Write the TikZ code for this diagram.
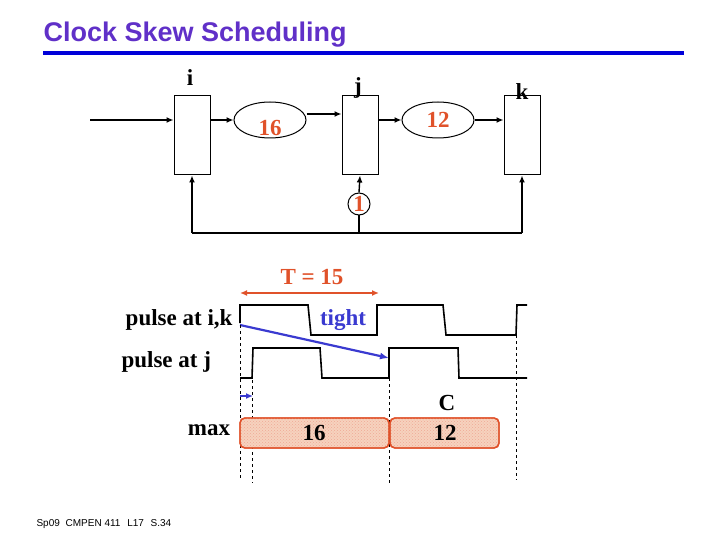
\documentclass[tikz,border=0pt]{standalone}
\usepackage{fontspec}
\setmainfont{Liberation Serif}
\newfontfamily\sansf{Liberation Sans}
\usetikzlibrary{shapes.geometric,arrows.meta,patterns}
\definecolor{ttl}{HTML}{6030C8}
\definecolor{orn}{HTML}{E0522A}
\definecolor{blu}{HTML}{3A3AD0}
\definecolor{fillc}{HTML}{F6D2BE}
\begin{document}
\begin{tikzpicture}[x=1pt,y=-1pt,
  lbl/.style={font=\fontsize{23}{23}\selectfont\bfseries},
  lblo/.style={font=\fontsize{23}{23}\selectfont\bfseries,text=orn},
  reg/.style={draw,line width=1pt,minimum width=36pt,minimum height=79pt,inner sep=0},
  ell/.style={draw,line width=1pt,ellipse,minimum width=72pt,minimum height=36pt,inner sep=0},
  arr/.style={line width=1.4pt,-{Latex[length=7pt,width=6pt]}},
  sig/.style={line width=1.6pt},
  dsh/.style={dashed,thin},
  mx/.style={draw=orn,line width=1.4pt,rounded corners=5pt,fill=fillc,pattern color=orn!50},
]
\useasboundingbox (0,0) rectangle (720,540);
\node[anchor=west,font=\sansf\fontsize{27}{27}\selectfont\bfseries,text=ttl] (title) at (40,35) {Clock Skew Scheduling};
\draw[line width=4.5pt,blue!85!black] (43,53) -- (684,53);
\node[anchor=west,font=\sansf\fontsize{10}{10}\selectfont] (foot) at (33,524) {Sp09\hspace{3pt} CMPEN 411\hspace{4pt} L17\hspace{4pt} S.34};
% registers
\node[reg] (ri) at (192,135.5) {};
\node[reg] (rj) at (360,135.5) {};
\node[reg] (rk) at (522,135.5) {};
\node[lbl] (li) at (190,78) {i};
\node[lbl] (lj) at (358,88) {j};
\node[lbl] (lk) at (522,92) {k};
\node[ell] (e1) at (270,120) {};
\node[lblo] at (270,128) {16};
\node[ell] (e2) at (438,120) {};
\node[lblo] at (438,120) {12};
\node[draw,line width=1pt,circle,minimum size=22pt,inner sep=0] (c1) at (359,204) {};
\node[lblo] at (359,204) {1};
\coordinate (in) at (90,120);
\draw[arr] (in) -- (ri.west|-in);
\draw[arr] (ri.east|-in) -- (e1.west);
\draw[arr] (e1.east|-0,114) -- (rj.west|-0,114);
\draw[arr] (rj.east|-e2) -- (e2.west);
\draw[arr] (e2.east) -- (rk.west|-e2);
\coordinate (b1) at (192,233); \coordinate (b2) at (359,233); \coordinate (b3) at (522,233);
\draw[line width=1.4pt] (b1) -- (b3);
\draw[arr] (b1) -- (ri.south);
\draw[arr] (b3) -- (rk.south);
\draw[line width=1.4pt] (b2) -- (c1.south);
\draw[arr] (c1.north) -- (rj.south);
% timing
\node[lblo] (T) at (312,277) {T = 15};
\coordinate (ta) at (240,293); \coordinate (tb) at (379,293);
\draw[orn,line width=1.6pt,{Latex[length=7pt,width=6pt]}-{Latex[length=7pt,width=6pt]}] (ta) -- (tb);
\node[lbl,anchor=east] (p1) at (236,320) {pulse at i,k};
\node[lbl,anchor=west] (p2) at (118,362) {pulse at j};
\node[lbl,text=blu] (tight) at (343,320) {tight};
\node[lbl] (max) at (209,430) {max};
\draw[sig] (240,323) -- (240,305) -- (308,305) -- (311,335) -- (377,335) -- (377,305) -- (443,305) -- (446,335) -- (516,335) -- (517,305) -- (527,305);
\draw[sig] (240,378) -- (252,378) -- (253,348) -- (320,348) -- (322,378) -- (389,378) -- (389,348) -- (458,348) -- (459,378) -- (527,378);
\coordinate (s1) at (240,325); \coordinate (s2) at (389,358);
\draw[blu,line width=2.2pt,-{Latex[length=9pt,width=7pt]}] (s1) -- (s2);
\coordinate (m1) at (240,396); \coordinate (m2) at (253,396);
\draw[blu,line width=1.8pt,-{Latex[length=7pt,width=6pt]}] (m1) -- (m2);
\draw[dsh] (240,325) -- (240,478);
\draw[dsh] (252,350) -- (252,483);
\draw[dsh] (389,378) -- (389,485);
\draw[dsh] (516,335) -- (516,480);
\draw[mx] (240,418) rectangle (389,448);
\draw[mx,pattern=crosshatch dots] (240,418) rectangle (389,448);
\draw[mx] (390,418) rectangle (499,448);
\draw[mx,pattern=crosshatch dots] (390,418) rectangle (499,448);
\node[lbl] (n16) at (314,433) {16};
\node[lbl] (n12) at (445,433) {12};
\node[lbl] (C) at (447,403) {C};
\end{tikzpicture}
\end{document}
